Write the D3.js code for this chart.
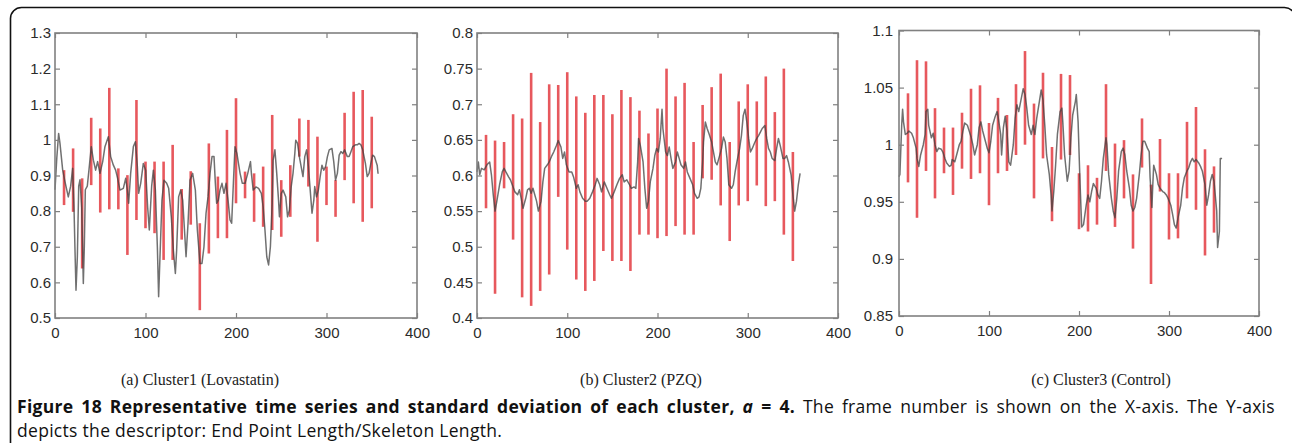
<!DOCTYPE html>
<html>
<head>
<meta charset="utf-8">
<script src="https://cdn.jsdelivr.net/npm/d3@7"></script>
<style>
  body { margin: 0; background: #fff; }
  svg { display: block; }
</style>
</head>
<body>
<svg width="1292" height="443"></svg>
<script>
const width = 1292, height = 443;

// frames where the std bars are drawn (same for all clusters)
const barFrames = [10,20,30,40,50,60,70,80,90,100,110,120,130,140,150,160,170,180,190,200,
                   210,220,230,240,250,260,270,280,290,300,310,320,330,340,350];
const xTicks = [0, 100, 200, 300, 400];

// (a) Cluster1 (Lovastatin)
const c1Ticks = [0.5, 0.6, 0.7, 0.8, 0.9, 1, 1.1, 1.2, 1.3];
const c1Line = [[0,0.86],[2,0.95],[4,1.018],[5.5,0.99],[8.5,0.915],[11,0.883],[14.7,0.84],[17.3,0.87],[19.5,0.92],[21,0.81],
  [22,0.70],[23.2,0.578],[24.7,0.672],[26.2,0.87],[27.6,0.888],[29.5,0.81],[30.6,0.681],[31.3,0.597],[32.4,0.70],[33.5,0.86],
  [35.7,0.87],[37.9,0.925],[40.1,0.981],[42.4,0.943],[44.9,0.915],[47.1,0.939],[49.7,0.906],[52.7,0.939],[55.2,0.981],[58.9,1.009],
  [61.5,0.953],[64.5,0.929],[67,0.915],[69.2,0.892],[71.8,0.859],[75.5,0.864],[78.1,0.892],[79.9,0.86],[81.4,0.822],[83.6,0.906],
  [86.6,0.981],[88.8,0.995],[91,0.925],[92.4,0.85],[94.7,0.878],[97.6,0.934],[100.2,0.915],[102.4,0.81],[104.2,0.747],[106.8,0.87],
  [108.7,0.915],[110.9,0.86],[113.1,0.70],[114.5,0.56],[116,0.672],[118.2,0.831],[120.4,0.887],[123.4,0.878],[125.6,0.864],[128.5,0.784],
  [130.8,0.69],[133,0.625],[134.4,0.69],[136.6,0.84],[138.9,0.859],[141.1,0.831],[143.3,0.737],[144.8,0.672],[147,0.766],[149.2,0.887],
  [152.1,0.906],[155.1,0.859],[157.3,0.747],[160.2,0.653],[162.4,0.653],[164.6,0.70],[166.9,0.794],[169.1,0.84],[171.3,0.906],[173.5,0.953],
  [175.7,0.953],[177.2,0.878],[178.6,0.822],[180.5,0.831],[182.3,0.859],[184.5,0.878],[186.7,0.85],[189,0.878],[191.2,0.831],[193.4,0.775],
  [195.2,0.766],[197.1,0.878],[198.9,0.981],[201,0.962],[203,0.93],[204.5,0.906],[207,0.878],[210,0.878],[213,0.906],[216,0.939],
  [217,0.906],[219,0.859],[222,0.868],[225,0.864],[228,0.85],[230,0.812],[232,0.747],[234,0.672],[236,0.649],[238,0.70],
  [240,0.822],[241,0.943],[243,0.972],[245,0.906],[247,0.831],[248,0.784],[250,0.85],[252,0.859],[255,0.84],[257,0.784],
  [259,0.803],[261,0.869],[263,0.906],[265,0.962],[266,0.999],[268,0.99],[270,0.953],[272,0.925],[274,0.897],[276,0.953],
  [278,0.972],[280,0.925],[282,0.859],[284,0.794],[286,0.831],[287,0.869],[289,0.84],[291,0.859],[293,0.897],[295,0.929],
  [297,0.915],[299,0.925],[301,0.953],[303,0.972],[306,0.976],[308,0.939],[310,0.887],[312,0.906],[314,0.957],[316,0.967],
  [318,0.962],[320,0.972],[323,0.953],[325,0.953],[327,0.967],[329,0.981],[332,0.986],[334,0.986],[336,0.99],[338,0.986],
  [340,0.972],[343,0.934],[345,0.897],[347,0.906],[349,0.934],[351,0.957],[353,0.953],[356,0.929],[357,0.905]];
const c1High = [0.915,0.976,0.892,1.062,1.032,1.146,0.920,0.901,1.112,0.939,0.939,0.939,0.986,0.862,0.912,0.766,0.990,0.897,
  1.028,1.117,0.911,0.906,0.925,1.070,0.887,0.929,1.060,1.056,1.009,0.925,0.887,1.076,1.135,1.140,1.065];
const c1Low = [0.817,0.798,0.639,0.873,0.796,0.805,0.805,0.677,0.775,0.752,0.738,0.663,0.663,0.720,0.762,0.522,0.681,0.724,
  0.724,0.822,0.836,0.770,0.756,0.747,0.728,0.784,0.953,0.869,0.714,0.817,0.784,0.887,0.822,0.770,0.808];

// (b) Cluster2 (PZQ)
const c2Ticks = [0.4, 0.45, 0.5, 0.55, 0.6, 0.65, 0.7, 0.75, 0.8];
const c2Line = [[0,0.605],[1.5,0.619],[3,0.601],[5,0.610],[8,0.608],[11,0.615],[14,0.619],[16,0.601],[18,0.573],[20,0.550],
  [22,0.564],[25,0.587],[28,0.605],[30,0.610],[32,0.605],[35,0.598],[37,0.594],[40,0.584],[42,0.577],[45,0.573],
  [47,0.580],[49,0.568],[51,0.554],[54,0.568],[56,0.580],[58,0.582],[60,0.575],[62,0.582],[64,0.573],[66,0.564],
  [68,0.550],[71,0.564],[73,0.591],[75,0.610],[78,0.615],[80,0.619],[83,0.628],[85,0.633],[88,0.642],[90,0.649],
  [93,0.640],[95,0.624],[97,0.633],[99,0.615],[102,0.605],[105,0.605],[107,0.598],[110,0.582],[112,0.587],[114,0.577],
  [117,0.568],[120,0.564],[122,0.564],[125,0.568],[128,0.577],[131,0.587],[133,0.596],[136,0.587],[138,0.577],[141,0.591],
  [144,0.582],[147,0.573],[149,0.568],[152,0.577],[155,0.587],[158,0.596],[161,0.601],[163,0.591],[166,0.594],[169,0.587],
  [171,0.582],[174,0.584],[176,0.582],[178,0.619],[179,0.652],[181,0.642],[184,0.619],[186,0.582],[188,0.554],[190,0.564],
  [192,0.591],[195,0.610],[197,0.628],[199,0.638],[201,0.633],[203,0.652],[205,0.693],[206,0.666],[209,0.633],[211,0.628],
  [213,0.640],[215,0.624],[217,0.610],[220,0.619],[222,0.633],[224,0.624],[226,0.615],[229,0.610],[231,0.619],[233,0.605],
  [236,0.596],[239,0.587],[241,0.575],[244,0.568],[246,0.570],[248,0.582],[250,0.619],[251,0.647],[253,0.675],[255,0.666],
  [257,0.659],[260,0.647],[262,0.633],[264,0.619],[266,0.615],[268,0.624],[271,0.638],[273,0.654],[275,0.647],[277,0.624],
  [279,0.587],[282,0.582],[284,0.587],[286,0.605],[288,0.619],[291,0.638],[293,0.656],[295,0.684],[297,0.693],[299,0.675],
  [301,0.652],[303,0.633],[305,0.638],[308,0.647],[310,0.652],[312,0.656],[314,0.661],[316,0.666],[319,0.670],[321,0.652],
  [323,0.638],[325,0.633],[327,0.624],[330,0.621],[332,0.638],[334,0.652],[336,0.642],[339,0.624],[341,0.624],[343,0.628],
  [345,0.619],[348,0.601],[350,0.573],[352,0.550],[354,0.564],[356,0.587],[358,0.603]];
const c2High = [0.657,0.649,0.647,0.686,0.680,0.744,0.675,0.728,0.727,0.745,0.711,0.688,0.713,0.713,0.686,0.720,0.710,0.691,
  0.659,0.694,0.750,0.711,0.730,0.647,0.699,0.724,0.743,0.647,0.704,0.728,0.704,0.739,0.689,0.750,0.633];
const c2Low = [0.554,0.434,0.582,0.510,0.429,0.417,0.438,0.461,0.570,0.496,0.454,0.438,0.452,0.494,0.480,0.480,0.466,0.517,
  0.517,0.512,0.515,0.529,0.517,0.517,0.596,0.594,0.558,0.508,0.558,0.564,0.586,0.557,0.564,0.517,0.480];

// (c) Cluster3 (Control)
const c3Ticks = [0.85, 0.9, 0.95, 1, 1.05, 1.1];
const c3Line = [[0,0.972],[1,0.974],[3,1.017],[4,1.031],[5,1.020],[7,1.009],[9,1.010],[11,1.012],[14,1.010],[16,1.006],
  [19,0.997],[20,0.988],[22,0.981],[24,0.991],[27,1.000],[29,1.009],[30,1.029],[32,1.031],[33,1.017],[36,1.006],
  [38,1.010],[40,1.000],[42,0.994],[44,0.997],[47,0.996],[49,0.993],[51,0.988],[53,0.984],[56,0.981],[58,0.982],
  [59,0.987],[62,0.985],[64,0.991],[67,1.000],[69,1.003],[71,1.012],[73,1.019],[76,1.017],[78,1.012],[80,1.007],
  [82,1.000],[84,0.991],[87,1.000],[89,1.015],[91,1.020],[93,1.012],[96,1.003],[98,0.997],[100,0.993],[102,1.003],
  [104,1.017],[107,1.025],[109,1.029],[110,1.025],[113,1.009],[114,0.991],[116,1.015],[118,1.025],[120,1.012],[122,0.985],
  [124,0.982],[127,1.000],[129,1.023],[131,1.035],[133,1.029],[136,1.041],[138,1.049],[140,1.044],[142,1.032],[144,1.017],
  [147,1.009],[149,1.017],[151,1.009],[153,1.023],[156,1.038],[158,1.048],[160,1.039],[162,1.017],[164,0.991],[167,0.974],
  [169,0.956],[170,0.942],[172,0.959],[174,0.982],[176,1.009],[179,1.029],[181,1.032],[182,1.020],[184,0.991],[187,0.968],
  [189,0.977],[191,1.006],[193,1.026],[196,1.038],[197,1.044],[199,1.020],[201,0.970],[203,0.928],[205,0.930],[208,0.947],
  [210,0.956],[212,0.950],[214,0.959],[216,0.966],[219,0.962],[221,0.956],[223,0.953],[225,0.968],[227,0.988],[230,1.006],
  [231,1.000],[233,0.974],[236,0.953],[238,0.942],[240,0.936],[242,0.953],[244,0.977],[247,0.994],[249,0.997],[251,0.991],
  [253,0.977],[256,0.962],[258,0.947],[260,0.942],[262,0.945],[264,0.953],[267,0.974],[269,0.991],[271,1.003],[273,1.003],
  [276,0.997],[278,0.994],[279,0.971],[281,0.945],[282,0.965],[283,0.982],[286,0.974],[288,0.965],[290,0.962],[293,0.959],
  [295,0.958],[297,0.956],[299,0.953],[302,0.947],[304,0.939],[306,0.930],[308,0.927],[310,0.936],[313,0.947],[315,0.962],
  [317,0.971],[320,0.977],[322,0.980],[324,0.985],[326,0.988],[328,0.985],[330,0.987],[333,0.984],[335,0.981],[337,0.977],
  [340,0.965],[342,0.947],[344,0.956],[346,0.968],[348,0.974],[350,0.968],[353,0.942],[354,0.910],[356,0.924],[357,0.988],[359,0.988]];
const c3High = [1.045,1.074,1.073,1.032,1.015,1.015,1.028,1.049,1.052,1.019,1.041,1.026,1.053,1.082,1.036,1.063,0.998,1.062,
  1.061,0.975,0.982,0.971,1.053,1.001,1.004,0.974,1.023,0.965,1.005,0.975,0.975,1.020,1.033,0.996,0.981];
const c3Low = [0.967,0.936,0.977,0.953,0.975,0.956,0.979,0.970,0.975,0.947,0.975,0.977,0.991,1.000,0.953,0.988,0.933,0.987,
  0.991,0.926,0.924,0.930,0.977,0.928,0.953,0.909,0.980,0.878,0.959,0.917,0.918,0.953,0.943,0.903,0.923];

const svg = d3.select("svg");
svg.append("rect").attr("width", width).attr("height", height).attr("fill", "#fff");

// frame round the figure
svg.append("rect")
   .attr("x", 10.5).attr("y", 7.5)
   .attr("width", 1285).attr("height", 470)
   .attr("rx", 11).attr("ry", 11)
   .attr("fill", "none")
   .attr("stroke", "#111")
   .attr("stroke-width", 1.6);

const axisColor = "#808080";
const labelColor = "#2b2b2b";
const tickFont = "'Liberation Sans', Arial, sans-serif";

function drawPanel(p) {
    const w = p.right - p.left, h = p.bottom - p.top;
    const g = svg.append("g").attr("transform", `translate(${p.left}, ${p.top})`);

    const x = d3.scaleLinear().domain([0, 400]).range([0, w]);
    const y = d3.scaleLinear().domain([p.ticks[0], p.ticks[p.ticks.length - 1]]).range([h, 0]);

    // std bars
    g.selectAll(".bar").data(barFrames).enter().append("line")
     .attr("x1", d => x(d)).attr("x2", d => x(d))
     .attr("y1", (d, i) => y(p.low[i]))
     .attr("y2", (d, i) => y(p.high[i]))
     .attr("stroke", "#e4464b")
     .attr("stroke-opacity", 0.9)
     .attr("stroke-width", 2.6);

    // representative series
    const line = d3.line().x(d => x(d[0])).y(d => y(d[1]));
    g.append("path")
     .datum(p.line)
     .attr("d", line)
     .attr("fill", "none")
     .attr("stroke", "#404040")
     .attr("stroke-opacity", 0.75)
     .attr("stroke-width", 1.5)
     .attr("stroke-linejoin", "round");

    const fmt = d => String(d);

    g.append("g").attr("transform", `translate(0, ${h})`)
     .call(d3.axisBottom(x).tickValues(xTicks).tickFormat(fmt).tickSizeInner(-5).tickSizeOuter(0).tickPadding(9));
    g.append("g").call(d3.axisTop(x).tickValues(xTicks).tickFormat("").tickSizeInner(-5).tickSizeOuter(0));
    g.append("g")
     .call(d3.axisLeft(y).tickValues(p.ticks).tickFormat(fmt).tickSizeInner(-5).tickSizeOuter(0).tickPadding(p.pad));
    g.append("g").attr("transform", `translate(${w}, 0)`)
     .call(d3.axisRight(y).tickValues(p.ticks).tickFormat("").tickSizeInner(-5).tickSizeOuter(0));

    g.selectAll(".domain").remove();
    g.selectAll(".tick line").attr("stroke", axisColor).attr("stroke-width", 1.2);
    g.selectAll(".tick text")
     .attr("fill", labelColor)
     .attr("font-family", tickFont)
     .attr("font-size", "15px");

    g.append("rect")
     .attr("width", w).attr("height", h)
     .attr("fill", "none")
     .attr("stroke", axisColor)
     .attr("stroke-width", 1.6);

    svg.append("text")
       .attr("x", p.capX).attr("y", 385)
       .attr("text-anchor", "middle")
       .attr("font-family", "'Liberation Serif', 'Times New Roman', serif")
       .attr("font-size", "16px")
       .attr("fill", "#222")
       .text(p.caption);
}

drawPanel({left: 55, right: 417, top: 33, bottom: 318, pad: 4, ticks: c1Ticks,
           line: c1Line, high: c1High, low: c1Low, caption: "(a) Cluster1 (Lovastatin)", capX: 200});
drawPanel({left: 477, right: 838, top: 33, bottom: 318, pad: 4, ticks: c2Ticks,
           line: c2Line, high: c2High, low: c2Low, caption: "(b) Cluster2 (PZQ)", capX: 641});
drawPanel({left: 899, right: 1259, top: 30.5, bottom: 316, pad: 6, ticks: c3Ticks,
           line: c3Line, high: c3High, low: c3Low, caption: "(c) Cluster3 (Control)", capX: 1101});

// figure caption, first line justified by widening the word gaps
const capFont = "'Open Sans', sans-serif";
const cap1 = svg.append("text")
   .attr("x", 17).attr("y", 413)
   .attr("font-family", capFont)
   .attr("font-size", "17.5px")
   .attr("letter-spacing", "0.3px")
   .attr("fill", "#111");
cap1.append("tspan").attr("font-weight", "bold").text("Figure 18 Representative time series and standard deviation of each cluster, ");
cap1.append("tspan").attr("font-weight", "bold").attr("font-style", "italic").text("a");
cap1.append("tspan").attr("font-weight", "bold").text(" = 4.");
cap1.append("tspan").text(" The frame number is shown on the X-axis. The Y-axis");

const natural = cap1.node().getComputedTextLength();
const gaps = cap1.text().split(" ").length - 1;
if (natural < 1258 && gaps > 0) cap1.attr("word-spacing", (1258 - natural) / gaps);

svg.append("text")
   .attr("x", 17).attr("y", 437)
   .attr("font-family", capFont)
   .attr("font-size", "17.5px")
   .attr("letter-spacing", "0.3px")
   .attr("fill", "#111")
   .text("depicts the descriptor: End Point Length/Skeleton Length.");
</script>
</body>
</html>
